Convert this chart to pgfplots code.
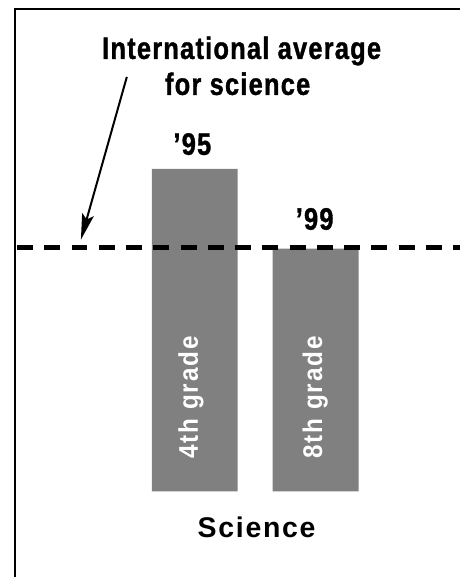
\documentclass[border=0pt]{standalone}
\usepackage{fontspec}
\setmainfont{Liberation Sans}
\newfontfamily\condfont[FakeStretch=0.82,LetterSpace=4,FakeBold=1.2]{Liberation Sans}
\newfontfamily\barfont[FakeStretch=0.9,LetterSpace=7]{Liberation Sans}
\newfontfamily\scifont[LetterSpace=6]{Liberation Sans}
\usepackage{pgfplots}
\pgfplotsset{compat=1.18}
\usetikzlibrary{arrows.meta}
\definecolor{bargray}{HTML}{808080}
\newcommand{\labfont}{\condfont\bfseries\fontsize{31}{36}\selectfont}

\begin{document}
\begin{tikzpicture}
  \begin{axis}[
      scale only axis,
      width=461pt, height=578pt,
      xmin=-1.6116, xmax=2.1983,
      ymin=-86, ymax=492,
      hide axis,
      clip=false,
    ]
    \path (rel axis cs:0,0) rectangle (rel axis cs:1,1);
    % frame (left and top only)
    \draw[line width=1.5pt] (rel axis cs:0.0325,0) -- (rel axis cs:0.0325,0.9844) -- (rel axis cs:1,0.9844);

    % bars: '95 4th grade, '99 8th grade
    \addplot[ybar, bar width=86pt, bar shift=0pt, fill=bargray, draw=none]
      coordinates {(0,323) (1,243)};

    % international average
    \addplot[sharp plot, no marks, black, line width=5pt, dash pattern=on 16pt off 11.3pt]
      coordinates {(-1.4711,244.5) (2.1983,244.5)};

    \draw[line width=2pt, -{Stealth[length=26pt,width=12pt,inset=5pt]}]
      (axis cs:-0.562,415) -- (axis cs:-0.942,252);

    \node[anchor=base, font=\labfont] at (axis cs:0.388,433) {International average};
    \node[anchor=base, font=\labfont] at (axis cs:0.355,397) {for science};
    \node[anchor=base, font=\labfont] at (axis cs:-0.02,337) {’95};
    \node[anchor=base, font=\labfont] at (axis cs:0.992,262) {’99};

    \node[rotate=90, anchor=base, text=white, font=\barfont\bfseries\fontsize{27}{30}\selectfont]
      at (axis cs:0.025,94) {4th grade};
    \node[rotate=90, anchor=base, text=white, font=\barfont\bfseries\fontsize{27}{30}\selectfont]
      at (axis cs:1.055,94) {8th grade};

    \node[anchor=base, font=\scifont\bfseries\fontsize{28.5}{34}\selectfont] at (axis cs:0.512,-46) {Science};
  \end{axis}
\end{tikzpicture}
\end{document}
